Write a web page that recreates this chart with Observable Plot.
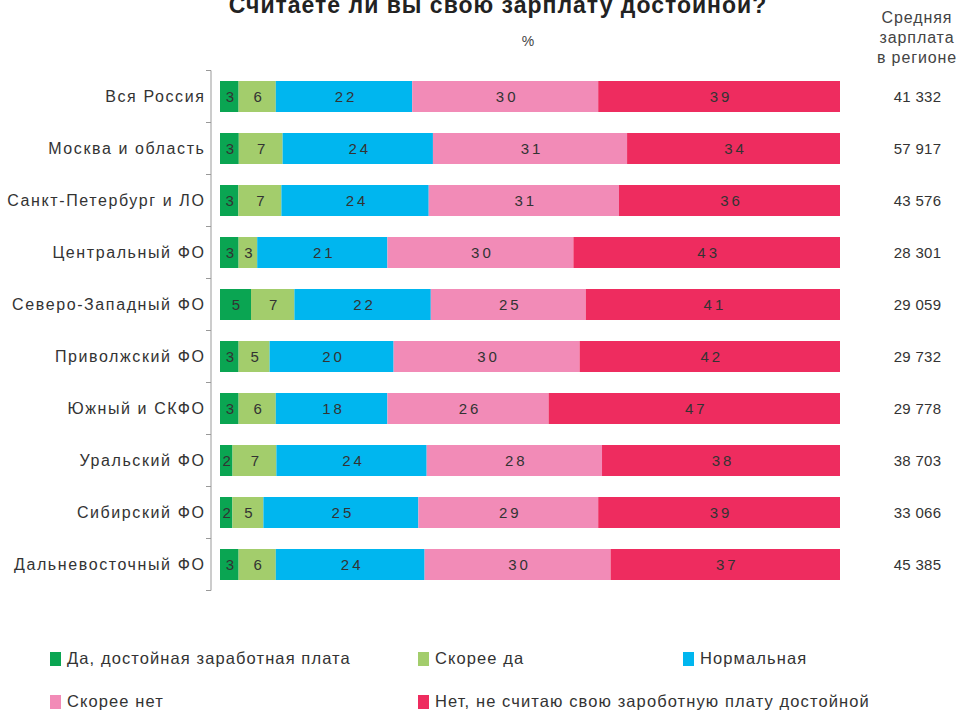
<!DOCTYPE html>
<html>
<head>
<meta charset="utf-8">
<script src="https://cdn.jsdelivr.net/npm/d3@7"></script>
<script src="https://cdn.jsdelivr.net/npm/@observablehq/plot@0.6"></script>
<style>
  body { margin: 0; background: #fff; font-family: "Liberation Sans", Arial, sans-serif; }
  #wrap { position: relative; width: 971px; height: 711px; overflow: hidden; }
  #title { position: absolute; left: 0; width: 996px; text-align: center; top: -6px; font-size: 23px; line-height: 23px; font-weight: bold; color: #222; letter-spacing: 1px; }
  #pct { position: absolute; left: 508px; width: 40px; text-align: center; top: 33px; font-size: 14px; color: #444; }
  #hdr { position: absolute; left: 857px; width: 120px; text-align: center; top: 8px; font-size: 16px; line-height: 20px; color: #444; letter-spacing: 0.9px; }
  #chart { position: absolute; left: 0; top: 0; }
  .leg { position: absolute; font-size: 16.5px; color: #333; display: flex; align-items: center; white-space: nowrap; letter-spacing: 1.1px; }
  .sw { display: inline-block; width: 11px; height: 14px; margin-right: 6px; }
</style>
</head>
<body>
<div id="wrap">
  <div id="chart"></div>
  <div id="title">Считаете ли вы свою зарплату достойной?</div>
  <div id="pct">%</div>
  <div id="hdr">Средняя<br>зарплата<br>в регионе</div>
  <div id="legend"></div>
</div>
<script>
const regions = ["Вся Россия","Москва и область","Санкт-Петербург и ЛО","Центральный ФО","Северо-Западный ФО","Приволжский ФО","Южный и СКФО","Уральский ФО","Сибирский ФО","Дальневосточный ФО"];
const answers = ["Да, достойная заработная плата","Скорее да","Нормальная","Скорее нет","Нет, не считаю свою зароботную плату достойной"];
const colors = ["#0aa552","#a3cd6c","#00b6ef","#f28bb7","#ee2c5f"];
const yes       = [3,3,3,3,5,3,3,2,2,3];
const ratherYes = [6,7,7,3,7,5,6,7,5,6];
const normal    = [22,24,24,21,22,20,18,24,25,24];
const ratherNo  = [30,31,31,30,25,30,26,28,29,30];
const no        = [39,34,36,43,41,42,47,38,39,37];
const salary = ["41 332","57 917","43 576","28 301","29 059","29 732","29 778","38 703","33 066","45 385"];

const series = [yes, ratherYes, normal, ratherNo, no];
const data = [];
regions.forEach((r, i) => series.forEach((s, j) => data.push({region: r, answer: answers[j], value: s[i]})));

const axisMark = (index, scales, values, dim) => {
  const y = scales.y;
  const step = y.step(), bw = y.bandwidth();
  const x0 = dim.marginLeft - 9;
  const g = d3.create("svg:g").attr("stroke", "#999").attr("fill", "none");
  const top = y(regions[0]) - (step - bw) / 2;
  const bottom = y(regions[regions.length - 1]) + bw + (step - bw) / 2;
  g.append("line").attr("x1", x0).attr("x2", x0).attr("y1", top).attr("y2", bottom);
  const ticks = regions.map(r => y(r) - (step - bw) / 2).concat([bottom]);
  ticks.forEach(t => g.append("line").attr("x1", x0 - 5).attr("x2", x0).attr("y1", t).attr("y2", t));
  return g.node();
};

const plot = Plot.plot({
  width: 971,
  height: 620,
  marginLeft: 220,
  marginRight: 131,
  marginTop: 71,
  marginBottom: 29,
  style: {fontFamily: "Liberation Sans, Arial, sans-serif", background: "transparent"},
  x: {axis: null, domain: [0, 1]},
  y: {axis: null, domain: regions, paddingInner: 0.4, paddingOuter: 0.2},
  color: {domain: answers, range: colors},
  marks: [
    Plot.barX(data, Plot.stackX({x: "value", y: "region", fill: "answer", offset: "normalize"})),
    Plot.text(data, Plot.stackX({x: "value", y: "region", z: "answer", text: "value", offset: "normalize", fill: "#333", fontSize: 15, className: "num"})),
    axisMark,
    Plot.text(regions, {y: d => d, text: d => d, frameAnchor: "left", textAnchor: "end", dx: -15, fontSize: 16, fill: "#333", className: "cat"}),
    Plot.text(regions, {y: d => d, text: (d, i) => salary[i], frameAnchor: "right", textAnchor: "middle", dx: 77, fontSize: 15, fill: "#333", className: "sal"})
  ]
});
plot.querySelectorAll(".num text").forEach(t => { t.setAttribute("letter-spacing", "3"); t.setAttribute("dx", "1.5"); });
plot.querySelectorAll(".cat text").forEach(t => t.setAttribute("letter-spacing", "1.6"));
plot.querySelectorAll(".sal text").forEach(t => t.setAttribute("letter-spacing", "0.3"));
document.getElementById("chart").appendChild(plot);

const legendPos = [[50, 660], [418, 660], [683, 660], [50, 703], [418, 703]];
const leg = document.getElementById("legend");
answers.forEach((a, i) => {
  const d = document.createElement("div");
  d.className = "leg";
  d.style.left = legendPos[i][0] + "px";
  d.style.top = (legendPos[i][1] - 11) + "px";
  d.innerHTML = `<span class="sw" style="background:${colors[i]}"></span>${a}`;
  leg.appendChild(d);
});
</script>
</body>
</html>
